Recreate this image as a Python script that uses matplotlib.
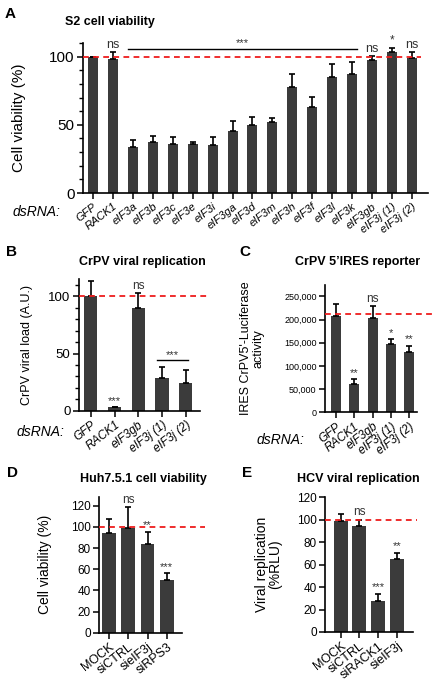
import numpy as np
import matplotlib
matplotlib.use("Agg")
import matplotlib.pyplot as plt
from matplotlib.ticker import MultipleLocator, FuncFormatter

plt.rcParams["font.family"] = ["Liberation Sans", "DejaVu Sans"]

BAR = "#3b3b3b"
SIG = "#333333"

# A: S2 cell viability
a_labels = ["GFP", "RACK1", "eIF3a", "eIF3b", "eIF3c", "eIF3e", "eIF3i", "eIF3ga",
            "eIF3d", "eIF3m", "eIF3h", "eIF3f", "eIF3l", "eIF3k", "eIF3gb",
            "eIF3j (1)", "eIF3j (2)"]
a_vals = [100, 98, 34, 37.2, 36.2, 35.7, 35.5, 45.8, 50, 52, 77.6, 63.3, 85.2,
          87.2, 97.3, 103.7, 98.8]
a_err = [0, 5.4, 4.7, 4.8, 5.2, 2.0, 5.5, 6.7, 5.7, 2.7, 9.6, 6.9, 9.6, 9.1,
         3.2, 2.5, 4.4]
a_sig = ["", "ns", "", "", "", "", "", "", "", "", "", "", "", "", "ns", "*", "ns"]

# B: CrPV viral replication
b_labels = ["GFP", "RACK1", "eIF3gb", "eIF3j (1)", "eIF3j (2)"]
b_vals = [100, 3, 90.2, 28.9, 24]
b_err = [13.5, 0, 12.7, 9.5, 11.3]
b_sig = ["", "***", "ns", "", ""]

# C: CrPV 5'IRES reporter
c_labels = ["GFP", "RACK1", "eIF3gb", "eIF3j (1)", "eIF3j (2)"]
c_vals = [208900, 61200, 204600, 147000, 130400]
c_err = [25200, 10100, 24500, 10800, 13700]
c_sig = ["", "**", "ns", "*", "**"]
c_ref = 212000

# D: Huh7.5.1 cell viability
d_labels = ["MOCK", "siCTRL", "sieIF3j", "siRPS3"]
d_vals = [94.5, 99.2, 83.5, 49.4]
d_err = [12.9, 19.2, 11.9, 7.0]
d_sig = ["", "ns", "**", "***"]

# E: HCV viral replication
e_labels = ["MOCK", "siCTRL", "siRACK1", "sieIF3j"]
e_vals = [98.7, 94.2, 27.9, 65.2]
e_err = [6.5, 5.9, 6.2, 5.3]
e_sig = ["", "ns", "***", "**"]


def bar_panel(fig, rect, labels, vals, errs, sigs, width, xlim, ylim,
              ref, ref_end, tick_fs, xlab_fs, italic, ylabel, ylab_fs, ylab_x,
              sig_fs=8.5):
    ax = fig.add_axes(rect)
    x = np.arange(len(vals))
    ax.bar(x, vals, width=width, color=BAR, zorder=2)
    ax.errorbar(x, vals, yerr=[np.zeros(len(errs)), errs], fmt="none",
                ecolor="black", elinewidth=1.2, capsize=2.2, capthick=1.2, zorder=3)
    ax.plot([0, ref_end], [ref, ref], transform=ax.get_yaxis_transform(),
            color="#ee1c1c", lw=1.3, dashes=(3.2, 2.4), clip_on=False, zorder=4)
    for i, s in enumerate(sigs):
        if s:
            fs = sig_fs if s == "ns" else sig_fs - 0.5
            ax.annotate(s, (i, vals[i] + errs[i]), xytext=(0, 1),
                        textcoords="offset points", ha="center", va="bottom",
                        fontsize=fs, color=SIG)
    ax.set_xlim(*xlim)
    ax.set_ylim(*ylim)
    for sp in ["top", "right"]:
        ax.spines[sp].set_visible(False)
    for sp in ["left", "bottom"]:
        ax.spines[sp].set_linewidth(1.2)
    ax.set_xticks(x)
    ax.set_xticklabels(labels, rotation=38, ha="right", rotation_mode="anchor",
                       fontsize=xlab_fs, style="italic" if italic else "normal")
    ax.tick_params(axis="x", length=4, width=1.1, pad=2)
    ax.tick_params(axis="y", which="major", length=4, width=1.1, labelsize=tick_fs, pad=2)
    ax.tick_params(axis="y", which="minor", length=3, width=1.0)
    ax.set_ylabel(ylabel, fontsize=ylab_fs, linespacing=1.0)
    ax.yaxis.set_label_coords(ylab_x, 0.5)
    return ax


fig = plt.figure(figsize=(4.4, 6.85), dpi=100)

# ---- A ----
axA = bar_panel(fig, [0.1886, 0.7182, 0.784, 0.219], a_labels, a_vals, a_err, a_sig,
                0.5, (-0.5, 16.8), (0, 110), 100, 0.98, 11, 8, True,
                "Cell viability (%)", 11, -0.165, sig_fs=9)
axA.set_yticks([0, 50, 100])
axA.yaxis.set_minor_locator(MultipleLocator(10))
axA.plot([1.75, 13.25], [105.6, 105.6], color="black", lw=1.0)
axA.text(7.5, 106, "***", ha="center", va="bottom", fontsize=8, color=SIG)

# ---- B ----
axB = bar_panel(fig, [0.1795, 0.4004, 0.275, 0.192], b_labels, b_vals, b_err, b_sig,
                0.55, (-0.5, 4.6), (0, 115), 100, 1.06, 9.5, 8.5, True,
                "CrPV viral load (A.U.)", 9, -0.38)
axB.set_yticks([0, 50, 100])
axB.yaxis.set_minor_locator(MultipleLocator(10))
axB.plot([2.8, 4.1], [44, 44], color="black", lw=1.0)
axB.text(3.45, 44.5, "***", ha="center", va="bottom", fontsize=8, color=SIG)

# ---- C ----
axC = bar_panel(fig, [0.7386, 0.3981, 0.2084, 0.186], c_labels, c_vals, c_err, c_sig,
                0.55, (-0.6, 4.4), (0, 275000), c_ref, 1.18, 6.5, 8.5, True,
                "IRES CrPV5'-Luciferase\nactivity", 9, -0.66)
axC.set_yticks(np.arange(0, 250001, 50000))
axC.yaxis.set_major_formatter(FuncFormatter(lambda v, p: f"{int(v):,}"))

# ---- D ----
axD = bar_panel(fig, [0.225, 0.0763, 0.188, 0.1985], d_labels, d_vals, d_err, d_sig,
                0.73, (-0.54, 3.79), (0, 128.5), 100, 1.28, 8.5, 9, False,
                "Cell viability (%)", 10, -0.57)
axD.set_yticks(np.arange(0, 121, 20))

# ---- E ----
axE = bar_panel(fig, [0.7386, 0.0774, 0.2007, 0.1975], e_labels, e_vals, e_err, e_sig,
                0.75, (-0.84, 3.88), (0, 120.5), 100, 1.04, 8.5, 9, False,
                "Viral replication\n(%RLU)", 10, -0.48)
axE.set_yticks(np.arange(0, 121, 20))

# panel letters and titles (pixel positions / figure size)
W, H = 440, 685
for letter, px, py in [("A", 10, 14), ("B", 11, 252), ("C", 245, 252),
                       ("D", 12, 473), ("E", 247, 473)]:
    fig.text(px / W, 1 - py / H, letter, fontsize=11, fontweight="bold",
             ha="center", va="center")
for title, px, py in [("S2 cell viability", 65, 22), ("CrPV viral replication", 79, 262),
                      ("CrPV 5\u2019IRES reporter", 295, 262),
                      ("Huh7.5.1 cell viability", 80, 479),
                      ("HCV viral replication", 297, 479)]:
    fig.text(px / W, 1 - py / H, title, fontsize=9, fontweight="bold",
             ha="left", va="center")
for px, py in [(13, 212), (17, 432), (257, 440)]:
    fig.text(px / W, 1 - py / H, "dsRNA:", fontsize=10, style="italic",
             ha="left", va="center")

fig.savefig("out.png", dpi=100)
